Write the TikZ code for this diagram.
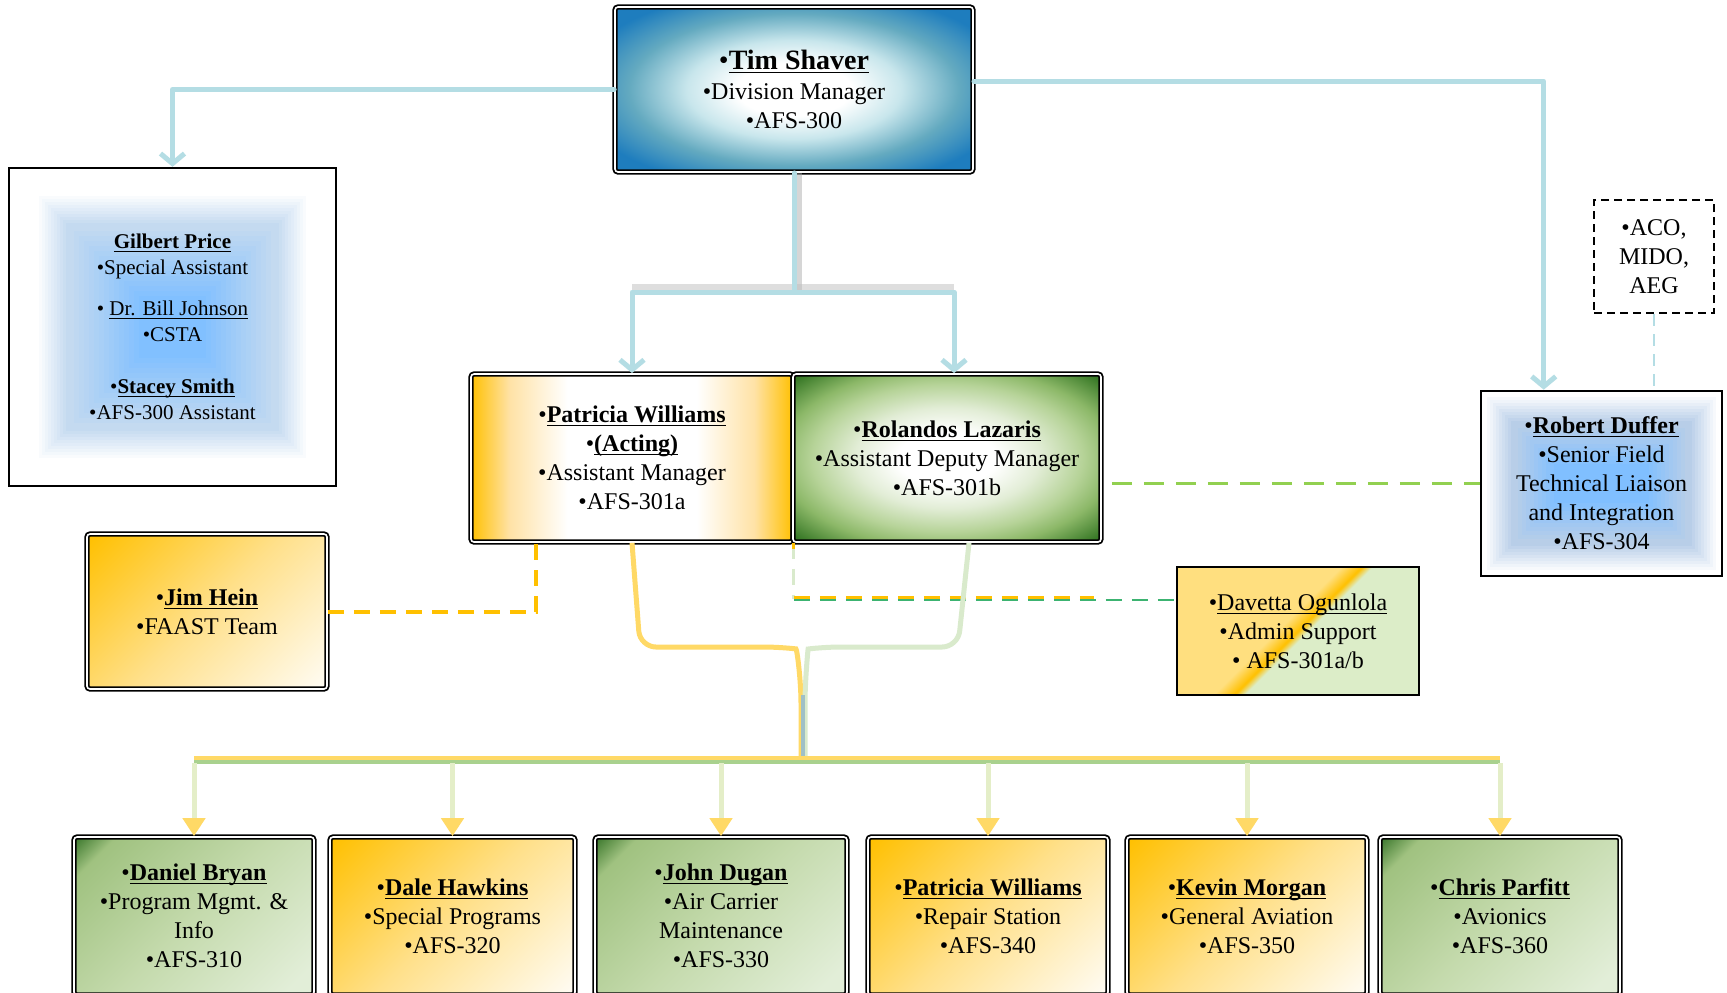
\documentclass[tikz,border=0pt]{standalone}
\usepackage{fontspec}
\setmainfont{Liberation Serif}
\usetikzlibrary{arrows.meta,calc}
\newcommand\uln[1]{\underline{\raisebox{0pt}[\height][0pt]{#1}}}

\definecolor{teall}{RGB}{180,221,228}
\definecolor{tlight}{RGB}{200,230,236}
\definecolor{tmid}{RGB}{100,170,192}
\definecolor{tdark}{RGB}{30,125,190}
\definecolor{orng}{RGB}{255,192,0}
\definecolor{orpale}{RGB}{255,226,166}
\definecolor{orpaleb}{RGB}{255,224,138}
\definecolor{orwhite}{RGB}{255,252,244}
\definecolor{orlite}{RGB}{255,217,102}
\definecolor{gdark}{RGB}{47,111,35}
\definecolor{gmid}{RGB}{160,194,128}
\definecolor{gmidb}{RGB}{196,218,172}
\definecolor{glite}{RGB}{226,238,216}
\definecolor{gline}{RGB}{217,234,204}
\definecolor{gdash}{RGB}{146,208,80}
\definecolor{gbus}{RGB}{169,209,142}
\definecolor{dropc}{RGB}{228,238,200}
\definecolor{bcen}{RGB}{128,191,255}
\definecolor{bedge}{RGB}{196,218,240}
\definecolor{rgray}{RGB}{184,206,232}
\definecolor{dyel}{RGB}{255,223,127}
\definecolor{dgrn}{RGB}{220,237,200}
\definecolor{rlgreen}{RGB}{55,120,38}
\definecolor{rlmid}{RGB}{140,184,104}
\definecolor{rlmidb}{RGB}{182,211,152}
\definecolor{rllight}{RGB}{226,237,214}
\definecolor{stemc}{RGB}{160,192,198}
\definecolor{dgreenb}{RGB}{60,179,113}

\pgfdeclareradialshading{timsh}{\pgfpoint{0bp}{0bp}}{color(0bp)=(white); color(8bp)=(white); color(15bp)=(tlight); color(23bp)=(tmid); color(31bp)=(tdark); color(50bp)=(tdark)}
\pgfdeclareradialshading{rlsh}{\pgfpoint{0bp}{0bp}}{color(0bp)=(white); color(8bp)=(white); color(15bp)=(rllight); color(22bp)=(rlmidb); color(27bp)=(rlmid); color(34bp)=(rlgreen); color(50bp)=(rlgreen)}
\pgfdeclarehorizontalshading{pwsh}{100bp}{color(0bp)=(orng); color(25bp)=(orng); color(31bp)=(orpale); color(40bp)=(white); color(60bp)=(white); color(69bp)=(orpale); color(75bp)=(orng); color(100bp)=(orng)}
\pgfdeclarehorizontalshading{grsh}{100bp}{color(0bp)=(gdark); color(14bp)=(gdark); color(22bp)=(gmid); color(50bp)=(gmidb); color(80bp)=(glite); color(100bp)=(glite)}
\pgfdeclarehorizontalshading{orsh}{100bp}{color(0bp)=(orng); color(15bp)=(orng); color(50bp)=(orpaleb); color(85bp)=(orwhite); color(100bp)=(orwhite)}
\pgfdeclarehorizontalshading{davsh}{100bp}{color(0bp)=(dyel); color(46bp)=(dyel); color(50bp)=(orng); color(52bp)=(dgrn); color(100bp)=(dgrn)}

\tikzset{
  dbl/.style={draw=black, line width=0.9pt, double=white, double distance=0.8pt, rounded corners=1.5pt},
  txt/.style={align=center, inner sep=0pt, font=\fontsize{12}{14.5}\selectfont},
  tealc/.style={draw=teall, line width=2.5pt, line cap=round, line join=round},
  tealarr/.style={tealc, -{Straight Barb[length=5pt,width=12pt]}},
  greenbox/.style={dbl, shade, shading=grsh, shading angle=-45, txt, minimum height=79pt},
  orangebox/.style={dbl, shade, shading=orsh, shading angle=-45, txt, minimum height=79pt},
  dropline/.style={draw=dropc, line width=2.5pt, -{Triangle[length=9pt,width=11pt,color=orlite]}}
}

\begin{document}
\begin{tikzpicture}[x=0.5pt, y=-0.5pt]
\useasboundingbox (0,0) rectangle (1727,992);
\clip (0,0) rectangle (1727,992);
\fill[white] (0,0) rectangle (1727,992);

% ---------- nodes ----------
\node[dbl, shade, shading=timsh, txt, minimum width=179pt, minimum height=82.5pt] (Tim) at (794,89.5)
  {{\fontsize{14}{16}\selectfont •\uln{\textbf{Tim Shaver}}}\\[0.5pt] •Division Manager\\ •AFS-300};

\node[draw, line width=1.2pt, fill=white, align=center, inner sep=0pt,
      font=\fontsize{10.5}{13}\selectfont, minimum width=163.5pt, minimum height=159pt,
      path picture={
        \foreach \i in {0,...,9}{
          \pgfmathtruncatemacro\p{10+\i*10}
          \fill[bedge!\p!white] ($(path picture bounding box.north west)+(30+\i*3,28+\i*3)$) rectangle ($(path picture bounding box.south east)+(-30-\i*3,-28-\i*3)$);}
        \foreach \i in {0,...,14}{
          \pgfmathtruncatemacro\p{\i*7}
          \fill[bcen!\p!bedge] ($(path picture bounding box.north west)+(60+\i*5,58+\i*5)$) rectangle ($(path picture bounding box.south east)+(-60-\i*5,-58-\i*5)$);}
      }] (GP) at (172.5,327)
  {\uln{\textbf{Gilbert Price}}\\ •Special Assistant\\[7.5pt] • \uln{Dr. Bill Johnson}\\ •CSTA\\[13pt] •\uln{\textbf{Stacey Smith}}\\ •AFS-300 Assistant};

\node[dbl, shade, shading=pwsh, txt, minimum width=161pt, minimum height=84pt] (PW) at (632,458)
  {•\uln{\textbf{Patricia Williams}}\\ •\uln{\textbf{(Acting)}}\\ •Assistant Manager\\ •AFS-301a};

\node[dbl, shade, shading=rlsh, txt, minimum width=154pt, minimum height=84pt] (RL) at (947,458)
  {•\uln{\textbf{Rolandos Lazaris}}\\ •Assistant Deputy Manager\\ •AFS-301b};

\node[draw, dashed, dash pattern=on 4pt off 2.5pt, line width=1pt, fill=white, txt,
      minimum width=60pt, minimum height=56.5pt] (ACO) at (1654,256.5)
  {•ACO,\\ MIDO,\\ AEG};

\node[draw, line width=1.3pt, fill=white, txt, minimum width=120.5pt, minimum height=92.5pt,
      path picture={
        \foreach \i in {0,...,8}{
          \pgfmathtruncatemacro\p{12+\i*11}
          \fill[rgray!\p!white] ($(path picture bounding box.north west)+(6+\i*3,6+\i*3)$) rectangle ($(path picture bounding box.south east)+(-6-\i*3,-6-\i*3)$);}
        \foreach \i in {0,...,10}{
          \pgfmathtruncatemacro\p{\i*10}
          \fill[bcen!\p!rgray] ($(path picture bounding box.north west)+(33+\i*4,33+\i*4)$) rectangle ($(path picture bounding box.south east)+(-33-\i*4,-33-\i*4)$);}
      }] (RD) at (1601.5,483.5)
  {•\uln{\textbf{Robert Duffer}}\\ •Senior Field\\ Technical Liaison\\ and Integration\\ •AFS-304};

\node[dbl, shade, shading=orsh, shading angle=-45, txt, minimum width=120pt, minimum height=77.5pt] (JH) at (207,611.5)
  {•\uln{\textbf{Jim Hein}}\\ •FAAST Team};

\node[draw, line width=1.3pt, shade, shading=davsh, shading angle=-45, txt, minimum width=121pt, minimum height=64pt] (DO) at (1298,631)
  {•\uln{Davetta Ogunlola}\\ •Admin Support\\ • AFS-301a/b};

\node[greenbox, minimum width=120pt] (B1) at (194,916)
  {•\uln{\textbf{Daniel Bryan}}\\ •Program Mgmt. \&\\ Info\\ •AFS-310};
\node[orangebox, minimum width=122.5pt] (B2) at (452.5,916)
  {•\uln{\textbf{Dale Hawkins}}\\ •Special Programs\\ •AFS-320};
\node[greenbox, minimum width=126pt] (B3) at (721,916)
  {•\uln{\textbf{John Dugan}}\\ •Air Carrier\\ Maintenance\\ •AFS-330};
\node[orangebox, minimum width=120pt] (B4) at (988,916)
  {•\uln{\textbf{Patricia Williams}}\\ •Repair Station\\ •AFS-340};
\node[orangebox, minimum width=120pt] (B5) at (1247,916)
  {•\uln{\textbf{Kevin Morgan}}\\ •General Aviation\\ •AFS-350};
\node[greenbox, minimum width=120pt] (B6) at (1500,916)
  {•\uln{\textbf{Chris Parfitt}}\\ •Avionics\\ •AFS-360};

% ---------- connectors ----------
\draw[tealarr] (Tim.west) -| (GP.north);
\draw[tealarr] ([yshift=4.25pt]Tim.east) -| ($(RD.north west)+(64,0)$);

\draw[line width=5pt, black!35, opacity=0.45] ($(Tim.south)+(3,0)$) -- ($(Tim.south |- 0,290)+(3,0)$);
\draw[line width=3pt, black!25, opacity=0.5] (PW.north |- 0,287) -- ($(RL.north |- 0,287)+(7,0)$);
\draw[tealc] (Tim.south) -- (Tim.south |- 0,292) coordinate (tj);
\draw[tealarr] (tj) -| (PW.north);
\draw[tealarr] (tj) -| ($(RL.north)+(7,0)$);

\draw[teall, line width=1.2pt, dash pattern=on 6pt off 4pt] (ACO.south) -- (ACO.south |- RD.north);

\draw[gdash, line width=1.5pt, dash pattern=on 10pt off 6pt] ($(RL.east |- RD.west)+(10,0)$) -- (RD.west);

\draw[orng, line width=2pt, dash pattern=on 8pt off 5pt] (JH.east) -| ($(PW.south west)+(66,0)$);

\coordinate (dv) at ($(DO.north west)+(0,33)$);
\draw[gline, line width=1.5pt, dash pattern=on 8pt off 5pt] (PW.south east) -- (PW.south east |- dv);
\draw[orng, line width=1.5pt] (PW.south east) -- ++(0,6);
\draw[dgreenb, line width=1.1pt, dash pattern=on 8pt off 5pt] ($(PW.south east |- dv)+(0,1.2)$) -- ($(dv)+(0,1.2)$);
\draw[orng, line width=1.1pt, dash pattern=on 8pt off 5pt] ($(PW.south east |- dv)+(0,-1.2)$) -- ($(PW.south east |- dv)+(300,-1.2)$);

\coordinate (stem) at (803,757);
\draw[orlite, line width=2.5pt, rounded corners=8pt] (PW.south) -- (640,647) -- (780,647) .. controls (797,649) and (801,680) .. (801,720) -- (801,757);
\draw[gline, line width=2.5pt, rounded corners=8pt] ($(RL.south)+(22,0)$) -- (958,647) -- (824,647) .. controls (808,649) and (805,680) .. (805,720) -- (805,757);
\draw[stemc, line width=2pt] (803,695) -- (stem);

\coordinate (busy) at (0,760);
\draw[orlite, line width=2pt] (B1.north |- 0,758) -- (B6.north |- 0,758);
\draw[gbus, line width=2pt] (B1.north |- 0,762) -- (B6.north |- 0,762);
\foreach \b in {B1,B2,B3,B4,B5,B6}{
  \draw[dropline] ($(\b.north |- busy)+(0,3)$) -- (\b.north);
}
\end{tikzpicture}
\end{document}
